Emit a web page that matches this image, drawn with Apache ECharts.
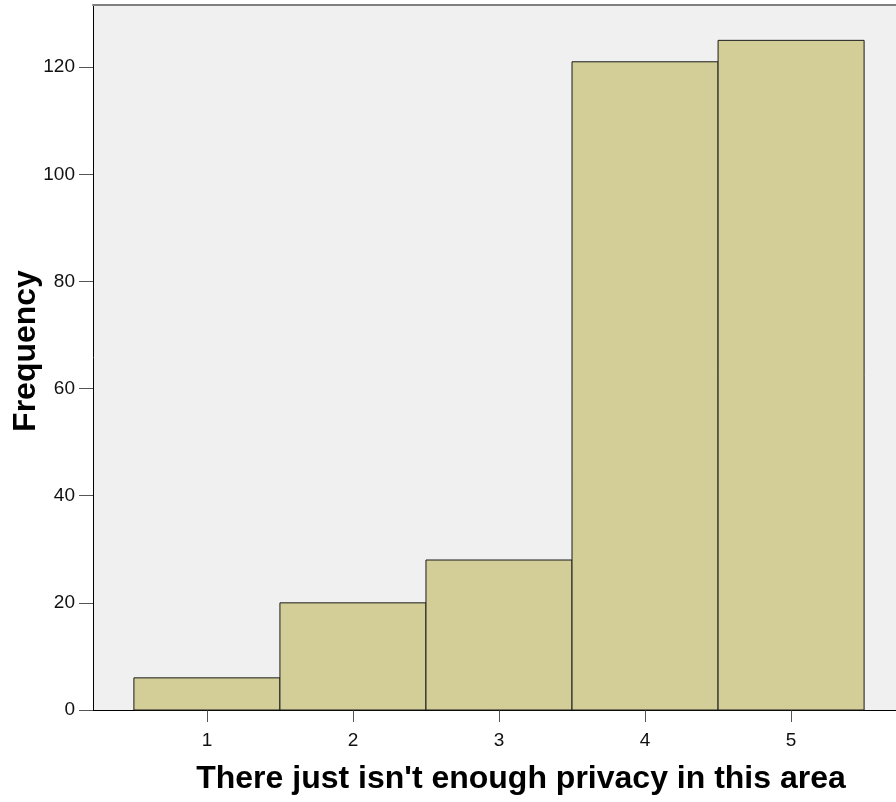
<!DOCTYPE html>
<html><head><meta charset="utf-8">
<script src="https://cdn.jsdelivr.net/npm/echarts@6/dist/echarts.min.js"></script>
<style>html,body{margin:0;padding:0;background:#fff}#c{width:896px;height:802px}</style>
</head><body><div id="c"></div>
<script>
const categories = [1, 2, 3, 4, 5];
const frequencies = [6, 20, 28, 121, 125];
const yTicks = [0, 20, 40, 60, 80, 100, 120];
const xTitle = "There just isn't enough privacy in this area";
const yTitle = "Frequency";

const chart = echarts.init(document.getElementById('c'));
const data = categories.map((c, i) => [c, frequencies[i]]);
chart.setOption({
  animation: false,
  grid: { left: 93, top: 5, width: 812, height: 705, show: true, backgroundColor: '#f0f0f0', borderWidth: 0, outerBoundsMode: 'none', containLabel: false },
  xAxis: [{
    type: 'value', min: 0.22, max: 5.78, position: 'bottom',
    axisLine: { lineStyle: { color: '#000', width: 1 } },
    axisTick: { show: true, length: 12, lineStyle: { color: '#555' }, customValues: categories },
    axisLabel: { customValues: categories, color: '#111', fontSize: 19, fontFamily: 'Liberation Sans, Arial', margin: 21 },
    splitLine: { show: false }
  }, {
    type: 'value', min: 0.22, max: 5.78, position: 'top',
    axisLine: { show: true, lineStyle: { color: '#808080', width: 2 } },
    axisTick: { show: false }, axisLabel: { show: false }, splitLine: { show: false }
  }],
  yAxis: {
    type: 'value', min: 0, max: 131.6,
    axisLine: { show: true, lineStyle: { color: '#000', width: 1 } },
    axisTick: { show: true, length: 14, lineStyle: { color: '#555' }, customValues: yTicks },
    axisLabel: { customValues: yTicks, color: '#111', fontSize: 19, fontFamily: 'Liberation Sans, Arial', margin: 18 },
    splitLine: { show: false }
  },
  series: [{
    type: 'custom',
    xAxisIndex: 0,
    data: data,
    renderItem: function (params, api) {
      const x = api.value(0), v = api.value(1);
      const p1 = api.coord([x - 0.5, v]);
      const p2 = api.coord([x + 0.5, 0]);
      return {
        type: 'rect',
        shape: { x: p1[0], y: p1[1], width: p2[0] - p1[0], height: p2[1] - p1[1] },
        style: { fill: '#d3ce97', stroke: '#1a1a1a', lineWidth: 1 }
      };
    }
  }],
  graphic: [
    { type: 'text', x: 521, y: 779, style: { text: xTitle, font: 'bold 32px "Liberation Sans", Arial', fill: '#000', textAlign: 'center', textVerticalAlign: 'middle' } },
    { type: 'text', x: 26, y: 351, rotation: Math.PI / 2, style: { text: yTitle, font: 'bold 32px "Liberation Sans", Arial', fill: '#000', textAlign: 'center', textVerticalAlign: 'middle' } }
  ]
});
</script></body></html>
